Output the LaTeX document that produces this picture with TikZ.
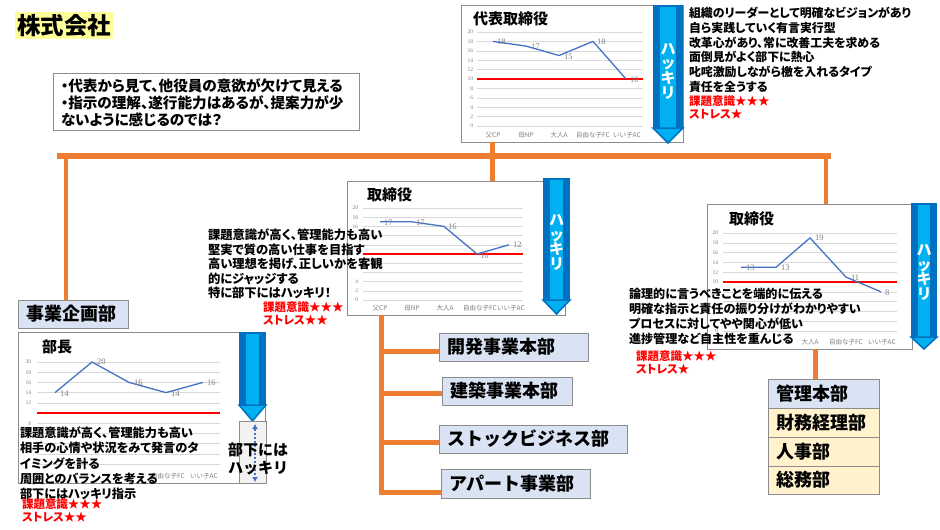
\documentclass[tikz,border=0pt]{standalone}
\usepackage{fontspec}
\setmainfont{Noto Sans CJK JP}
\newfontfamily\jp{Noto Sans CJK JP}
\newfontfamily\jpp{Noto Sans CJK JP}[RawFeature=+palt]
\newfontfamily\numf{Liberation Serif}
\usetikzlibrary{arrows.meta}
\definecolor{orangeC}{HTML}{ED7D31}
\definecolor{boxblue}{HTML}{DAE3F3}
\definecolor{boxyel}{HTML}{FFF2CC}
\definecolor{bdark}{HTML}{0070C0}
\definecolor{blight}{HTML}{00B0F0}
\definecolor{lineC}{HTML}{4472C4}
\definecolor{gridC}{HTML}{D9D9D9}
\definecolor{labC}{HTML}{7F7F7F}
\definecolor{frameC}{HTML}{8C8C8C}
\definecolor{hiC}{HTML}{FFFF99}
\definecolor{grayfill}{HTML}{F2F2F2}

\newcommand\chartgrid[4]{%
  \foreach \v in {0,2,4,6,8,12,14,16,18,20}{\draw[gridl] (#1,{#3-\v*#4}) -- (#2,{#3-\v*#4});}%
  \draw[redl] (#1,{#3-10*#4}) -- (#2,{#3-10*#4});%
}
\newcommand\ylabels[5]{%
  \foreach \v in {#4}{\node[ylab] (#5\v) at (#1,{#2-\v*#3}) {\v};}%
}
\newcommand\bluearrow[5]{%
  \fill[bdark] (#1,#3) rectangle (#2,#4);%
  \fill[blight] ({#1+7},{#3+2}) rectangle ({#2-7},#4);%
  \filldraw[fill=blight,draw=bdark,line width=1.5pt,line join=miter] (#1,#4) -- (#2,#4) -- ({(#1+#2)/2},#5) -- cycle;%
}

\begin{document}
\begin{tikzpicture}[x=1pt,y=-1pt,
  every node/.style={inner sep=0pt,outer sep=0pt},
  gridl/.style={draw=gridC,line width=0.6pt},
  redl/.style={draw=red,line width=1.8pt},
  dataline/.style={draw=lineC,line width=1.3pt,line join=round},
  ylab/.style={anchor=east,text=labC,font=\numf\fontsize{5.5}{6}\selectfont},
  dlab/.style={anchor=west,text=labC,font=\numf\fontsize{8.5}{9}\selectfont},
  cat/.style={text=labC,font=\jp\fontsize{6.5}{7}\selectfont},
  frame/.style={draw=frameC,line width=0.8pt,fill=white,anchor=north west},
  ctitle/.style={anchor=west,font=\jp\bfseries\fontsize{15}{16}\selectfont},
  txt/.style={anchor=north west,align=left,font=\jpp\bfseries\fontsize{12.5}{14.8}\selectfont},
  redtxt/.style={anchor=north west,align=left,text=red,font=\jpp\bfseries\fontsize{11.5}{12.8}\selectfont},
  vtxt/.style={anchor=north,align=center,text=white,font=\jp\bfseries\fontsize{15}{14.7}\selectfont},
  dept/.style={draw=frameC,line width=0.8pt,fill=boxblue,anchor=north west,align=left,inner xsep=8pt,minimum height=28pt,font=\jp\bfseries\fontsize{18}{18}\selectfont},
  obar/.style={draw=orangeC,line width=6pt},
  oline/.style={draw=orangeC,line width=5pt},
]
\useasboundingbox (0,0) rectangle (940,530);
\fill[white] (0,0) rectangle (940,530);

% title
\node[fill=hiC,anchor=north west,minimum width=98pt,minimum height=27pt,font=\jp\bfseries\fontsize{23.5}{23.5}\selectfont] (title) at (15,12) {株式会社};

% bubble
\node[draw=frameC,line width=0.8pt,anchor=north west,minimum width=306pt,minimum height=57pt] (bub) at (53,73) {};
\node[anchor=north west,align=left,font=\jpp\bfseries\fontsize{14.6}{17}\selectfont] (bubt) at (61,78.5) {・代表から見て、他役員の意欲が欠けて見える\\・指示の理解、遂行能力はあるが、提案力が少\\ないように感じるのでは？};

% ===== chart 1 (top) =====
\node[frame,minimum width=222pt,minimum height=137pt] (ch1) at (461,5) {};
\chartgrid{477}{643}{126}{4.7}
\ylabels{473}{126}{4.7}{0,2,...,20}{ya}
\node[ctitle] (t1) at (473,19) {代表取締役};
\draw[dataline] (493,41.4) -- (526,46.1) -- (559,55.5) -- (593,41.4) -- (626,79);
\node[dlab] (d1a) at (497,42) {18};
\node[dlab] (d1b) at (531,47) {17};
\node[dlab] (d1c) at (564,57) {15};
\node[dlab] (d1d) at (597,42) {18};
\node[dlab] (d1e) at (630,80) {10};
\node[cat] (k1a) at (493,135) {父CP};
\node[cat] (k1b) at (526,135) {母NP};
\node[cat] (k1c) at (559,135) {大人A};
\node[cat] (k1d) at (593,135) {自由な子FC};
\node[cat] (k1e) at (627,135) {いい子AC};
\bluearrow{653}{683}{5}{128}{143}
\node[vtxt] (v1) at (668,43) {ハ\\ッ\\キ\\リ};

\node[txt,font=\jpp\bfseries\fontsize{11.9}{14.8}\selectfont] (tr) at (689,7) {組織のリーダーとして明確なビジョンがあり\\自ら実践していく有言実行型\\改革心があり、常に改善工夫を求める\\面倒見がよく部下に熱心\\叱咤激励しながら檄を入れるタイプ\\責任を全うする};
\node[redtxt] (trr) at (689,96) {課題意識★★★\\ストレス★};

% ===== chart 2 (middle) =====
\node[frame,minimum width=218pt,minimum height=134pt] (ch2) at (347,181) {};
\chartgrid{363}{523}{300}{4.6}
\ylabels{358}{300}{4.6}{0,2,4,16,18,20}{yb}
\node[ctitle] (t2) at (367,195) {取締役};
\draw[dataline] (380,221.8) -- (412,221.8) -- (444,226.4) -- (477,254) -- (509,244.8);
\node[dlab] (d2a) at (384,223) {17};
\node[dlab] (d2b) at (416,223) {17};
\node[dlab] (d2c) at (448,227) {16};
\node[dlab] (d2d) at (480,256) {10};
\node[dlab] (d2e) at (513,245) {12};
\node[cat] (k2a) at (380,308) {父CP};
\node[cat] (k2b) at (412,308) {母NP};
\node[cat] (k2c) at (445,308) {大人A};
\node[cat] (k2d) at (480,308) {自由な子FC};
\node[cat] (k2e) at (511,308) {いい子AC};
\bluearrow{543}{570}{178}{300}{314}
\node[vtxt] (v2) at (556.5,214.5) {ハ\\ッ\\キ\\リ};

\node[txt,font=\jpp\bfseries\fontsize{12.3}{14.5}\selectfont] (tm) at (208,229) {課題意識が高く、管理能力も高い\\堅実で質の高い仕事を目指す\\高い理想を掲げ、正しいかを客観\\的にジャッジする\\特に部下にはハッキリ！};
\node[redtxt] (tmr) at (263,302) {課題意識★★★\\ストレス★★};

% ===== chart 3 (right) =====
\node[frame,minimum width=205pt,minimum height=145pt] (ch3) at (707,204) {};
\chartgrid{723}{897}{331}{4.9}
\ylabels{718}{331}{4.9}{0,10,12,14,16,18,20}{yc}
\node[ctitle] (t3) at (729,219) {取締役};
\draw[dataline] (741,267.3) -- (776,267.3) -- (810,237.9) -- (846,277.1) -- (881,291.8);
\node[dlab] (d3a) at (746,268) {13};
\node[dlab] (d3b) at (781,268) {13};
\node[dlab] (d3c) at (815,238) {19};
\node[dlab] (d3d) at (851,278) {11};
\node[dlab] (d3e) at (885,293) {8};
\node[cat] (k3c) at (810,342) {大人A};
\node[cat] (k3d) at (846,342) {自由な子FC};
\node[cat] (k3e) at (882,342) {いい子AC};
\bluearrow{911}{937}{203}{337}{349}
\node[vtxt] (v3) at (924,244.5) {ハ\\ッ\\キ\\リ};

\node[txt,font=\jpp\bfseries\fontsize{12.1}{15}\selectfont] (tg) at (629,288) {論理的に言うべきことを端的に伝える\\明確な指示と責任の振り分けがわかりやすい\\プロセスに対してやや関心が低い\\進捗管理など自主性を重んじる};
\node[redtxt] (tgr) at (636,351) {課題意識★★★\\ストレス★};

% ===== chart 4 (left) =====
\node[dept,text width=94pt] (b0) at (18,300) {事業企画部};
\node[frame,minimum width=247pt,minimum height=151pt] (ch4) at (18,332) {};
\chartgrid{37}{220}{464}{5.1}
\ylabels{31}{464}{5.1}{8,12,14,16,18,20}{yd}
\node[ctitle] (t4) at (42,347) {部長};
\draw[dataline] (55,392.6) -- (92,362) -- (129,382.4) -- (166,392.6) -- (203,382.4);
\node[dlab] (d4a) at (60,394) {14};
\node[dlab] (d4b) at (97,362) {20};
\node[dlab] (d4c) at (134,383) {16};
\node[dlab] (d4d) at (171,394) {14};
\node[dlab] (d4e) at (207,383) {16};
\node[cat] (k4d) at (168,476) {自由な子FC};
\node[cat] (k4e) at (204,476) {いい子AC};
\bluearrow{239}{266}{332}{405}{421}
\filldraw[fill=grayfill,draw=frameC,line width=0.6pt] (239,421) rectangle (266,483);
\coordinate (da1) at (255,424);
\coordinate (da2) at (255,482);
\draw[lineC,line width=2pt,dotted,{Latex[length=5pt,width=6pt]}-{Latex[length=5pt,width=6pt]}] (da1) -- (da2);
\node[anchor=north west,align=left,font=\jp\bfseries\fontsize{15}{18}\selectfont] (bk) at (228,442.5) {部下には\\ハッキリ};

\node[txt,font=\jpp\bfseries\fontsize{12.2}{15.2}\selectfont] (tl) at (20,427) {課題意識が高く、管理能力も高い\\相手の心情や状況をみて発言のタ\\イミングを計る\\周囲とのバランスを考える\\部下にはハッキリ指示};
\node[redtxt] (tlr) at (22,499) {課題意識★★★\\ストレス★★};

% ===== department boxes =====
\node[dept,text width=133pt] (b1) at (439,333) {開発事業本部};
\node[dept,text width=114pt] (b2) at (442,377) {建築事業本部};
\node[dept,text width=172pt] (b3) at (439,425) {ストックビジネス部};
\node[dept,text width=133pt,minimum height=29pt] (b4) at (441,469) {アパート事業部};

\node[dept,text width=95pt,minimum height=29pt] (m0) at (768,379) {管理本部};
\node[dept,fill=boxyel,text width=95pt,minimum height=29pt] (m1) at (768,408) {財務経理部};
\node[dept,fill=boxyel,text width=95pt,minimum height=29pt] (m2) at (768,437) {人事部};
\node[dept,fill=boxyel,text width=95pt,minimum height=28pt] (m3) at (768,466) {総務部};

% ===== orange connectors =====
\coordinate (barL) at (57,156);
\coordinate (barR) at (831,156);
\coordinate (jL) at (66,156);
\coordinate (jR) at (826,156);
\draw[obar] (barL) -- (barR);
\draw[oline] ([xshift=31pt]ch1.south west) -- ([xshift=145pt]ch2.north west);
\draw[oline,line width=4.5pt] (jL) -- (jL |- b0.north);
\draw[oline,line width=4.5pt] (jR) -- (jR |- ch3.north);
\coordinate (sp0) at (381,315);
\coordinate (sp4) at (381,492);
\coordinate (sj1) at (381,351);
\coordinate (sj2) at (381,393);
\coordinate (sj3) at (381,442);
\draw[oline] (sp0) -- (sp4);
\draw[oline] (sj1) -- (sj1 -| b1.west);
\draw[oline] (sj2) -- (sj2 -| b2.west);
\draw[oline] (sj3) -- (sj3 -| b3.west);
\draw[oline] ([xshift=-2.5pt]sp4) -- (sp4 -| b4.west);
\coordinate (rj) at (815,349);
\draw[oline] (rj) -- (rj |- m0.north);
\end{tikzpicture}
\end{document}
